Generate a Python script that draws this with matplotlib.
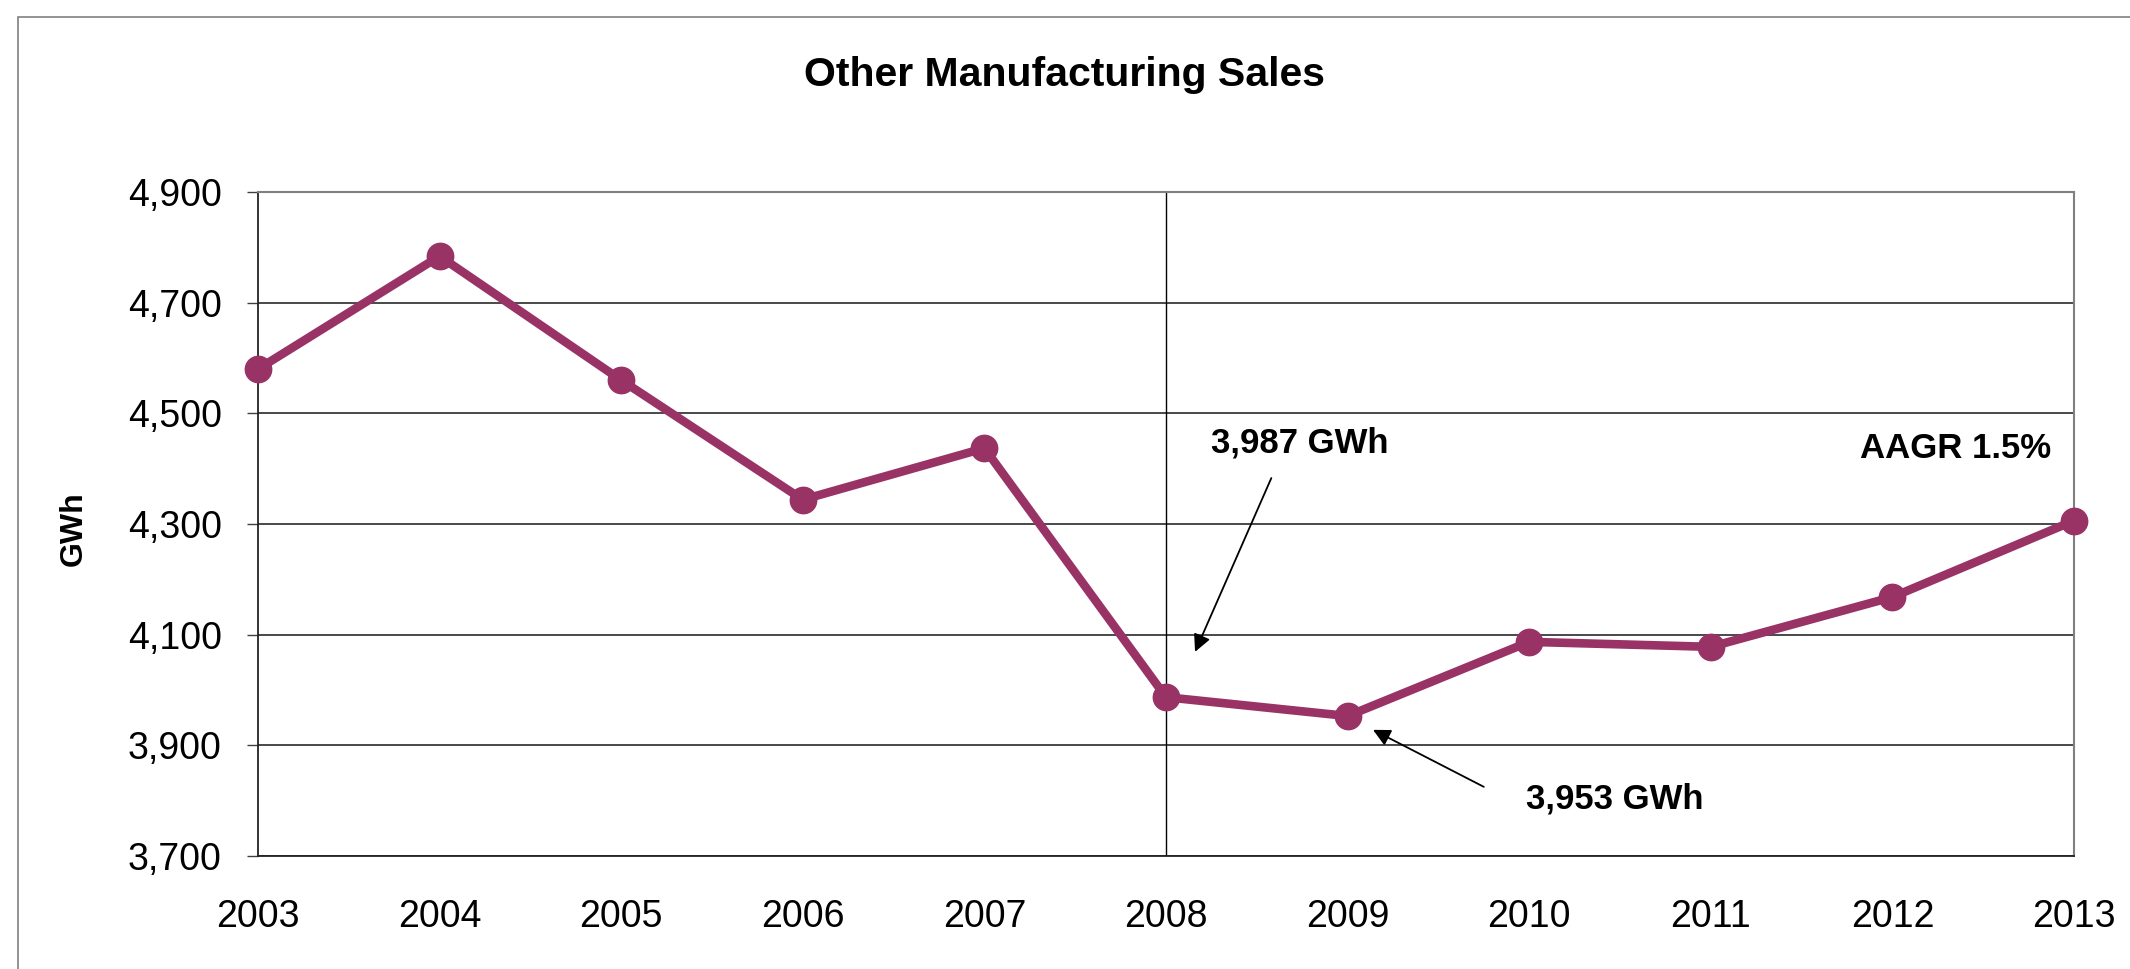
import matplotlib
matplotlib.use("Agg")
import matplotlib.pyplot as plt
from matplotlib.patches import Rectangle

years = [2003, 2004, 2005, 2006, 2007, 2008, 2009, 2010, 2011, 2012, 2013]
sales_gwh = [4580, 4784, 4560, 4344, 4437, 3987, 3953, 4087, 4078, 4168, 4306]
y_ticks = [3700, 3900, 4100, 4300, 4500, 4700, 4900]

plt.rcParams["font.family"] = ["Liberation Sans", "DejaVu Sans"]

W, H = 2130, 969
fig = plt.figure(figsize=(W / 100, H / 100), dpi=100)

# chart area border (runs off the right and bottom edges)
fig.add_artist(Rectangle((18 / W, -0.2), 1.5, 1.2 - 17 / H, transform=fig.transFigure,
                         fill=False, edgecolor="#808080", lw=1.2))

ax = fig.add_axes([258 / W, 1 - 856 / H, (2074 - 258) / W, (856 - 192) / H])

ax.plot(years, sales_gwh, color="#993366", lw=6.2, marker="o", ms=19,
        clip_on=False, zorder=5)
ax.axvline(2008, color="black", lw=1, zorder=2)

ax.set_xlim(2003, 2013)
ax.set_ylim(3700, 4900)
ax.set_yticks(y_ticks)
ax.set_yticklabels([f"{v:,}" for v in y_ticks])
ax.set_xticks(years)
ax.set_xticks([2003, 2008, 2013], minor=True)
ax.grid(axis="y", color="#3a3a3a", lw=1.3)
ax.set_axisbelow(True)

ax.tick_params(axis="y", labelsize=27, length=8, width=1, pad=18, color="#404040")
ax.tick_params(axis="x", which="major", labelsize=27, length=0, pad=31)
ax.tick_params(axis="x", which="minor", length=8, width=1, color="#404040")

for side in ["left", "bottom"]:
    ax.spines[side].set_color("#222222")
    ax.spines[side].set_linewidth(1.3)
for side in ["top", "right"]:
    ax.spines[side].set_color("#808080")
    ax.spines[side].set_linewidth(1.5)

fig.text(1064 / W, 1 - 75 / H, "Other Manufacturing Sales", ha="center", va="center",
         fontsize=29.5, fontweight="bold")
fig.text(74 / W, 1 - 529 / H, "GWh", rotation=90, ha="center", va="center",
         fontsize=23, fontweight="bold")

arrow = dict(arrowstyle="-|>", color="black", lw=1.3, mutation_scale=26, shrinkA=0, shrinkB=0)
ax.annotate("", xy=(2008.16, 4069), xytext=(2008.58, 4383), arrowprops=arrow)
ax.annotate("", xy=(2009.14, 3928), xytext=(2009.75, 3825), arrowprops=arrow)
ax.text(2008.25, 4446, "3,987 GWh", ha="left", va="center", fontsize=25, fontweight="bold")
ax.text(2009.98, 3803, "3,953 GWh", ha="left", va="center", fontsize=25, fontweight="bold")
ax.text(2011.82, 4437, "AAGR 1.5%", ha="left", va="center", fontsize=25, fontweight="bold")

fig.savefig("out.png", dpi=100)
